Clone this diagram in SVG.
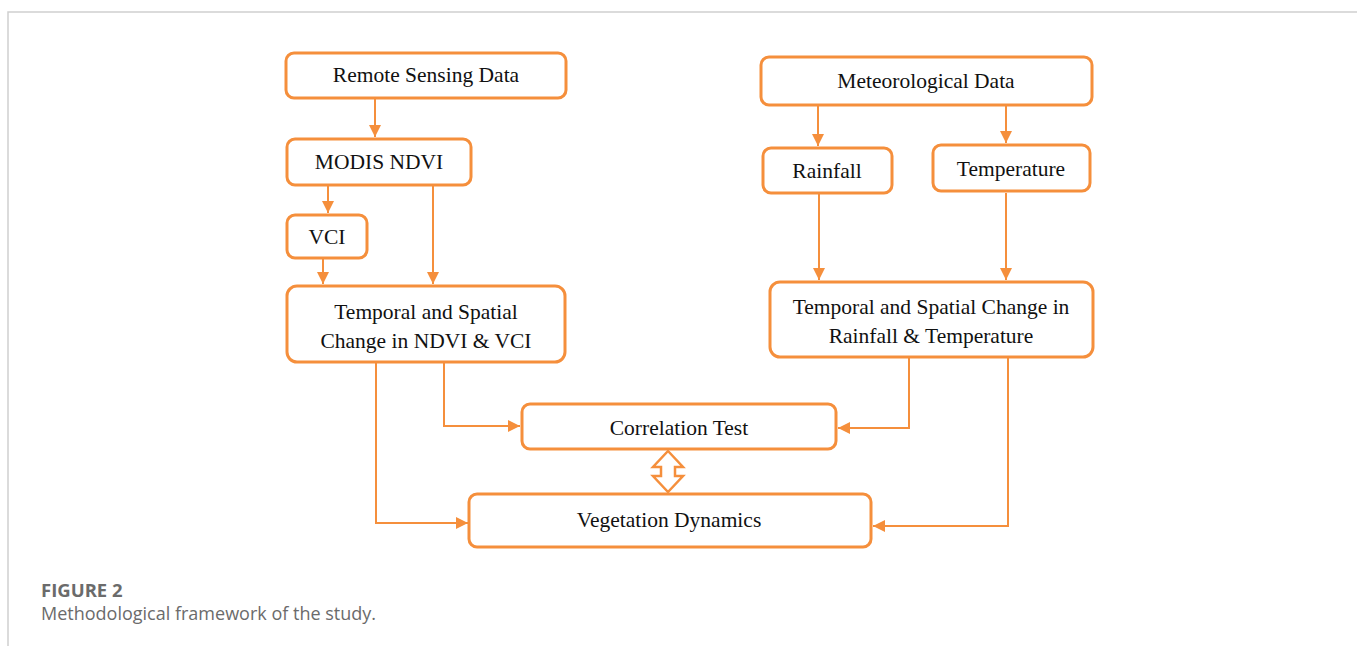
<svg xmlns="http://www.w3.org/2000/svg" width="1357" height="646" viewBox="0 0 1357 646">
<defs>
<style>
.box{fill:#fff;stroke:#F58F3C;stroke-width:3}
.t{font-family:"Liberation Serif","Times New Roman",serif;font-size:21.5px;fill:#111;text-anchor:middle}
.c{fill:none;stroke:#F58F3C;stroke-width:2}
.cap{font-family:"Open Sans","Noto Sans",sans-serif;fill:#6b6b6b}
</style>
<marker id="ah" markerUnits="userSpaceOnUse" markerWidth="12" markerHeight="12" refX="10" refY="5" orient="auto" viewBox="0 0 10 10">
<path d="M0,0 L10,5 L0,10 Z" fill="#F58F3C"/>
</marker>
</defs>
<rect width="1357" height="646" fill="#fff"/>
<path d="M8,646 V12 H1357" fill="none" stroke="#d0d0d0" stroke-width="1.5"/>

<g id="connectors">
<path class="c" d="M375,99 V137" marker-end="url(#ah)"/>
<path class="c" d="M328,186 V213" marker-end="url(#ah)"/>
<path class="c" d="M323,259 V284" marker-end="url(#ah)"/>
<path class="c" d="M433,186 V284" marker-end="url(#ah)"/>
<path class="c" d="M818,106 V146" marker-end="url(#ah)"/>
<path class="c" d="M1006,106 V143" marker-end="url(#ah)"/>
<path class="c" d="M819,194 V280" marker-end="url(#ah)"/>
<path class="c" d="M1006,193 V280" marker-end="url(#ah)"/>
<path class="c" d="M444,363 V426 H520" marker-end="url(#ah)"/>
<path class="c" d="M376,363 V523 H468" marker-end="url(#ah)"/>
<path class="c" d="M909,358 V428 H838" marker-end="url(#ah)"/>
<path class="c" d="M1008,358 V526 H873" marker-end="url(#ah)"/>
<path d="M668,451 L683,467 L675,467 L675,476 L683,476 L668,492 L653,476 L661,476 L661,467 L653,467 Z" fill="#fff" stroke="#F58F3C" stroke-width="2.5" stroke-linejoin="miter"/>
</g>

<g id="remote"><rect class="box" x="286" y="53" width="280" height="45" rx="8"/><text class="t" x="426" y="82">Remote Sensing Data</text></g>
<g id="modis"><rect class="box" x="287" y="139" width="184" height="46" rx="8"/><text class="t" x="379" y="169">MODIS NDVI</text></g>
<g id="vci"><rect class="box" x="287" y="215" width="80" height="43" rx="8"/><text class="t" x="327" y="244">VCI</text></g>
<g id="tsndvi"><rect class="box" x="287" y="286" width="278" height="76" rx="10"/><text class="t" x="426" y="319">Temporal and Spatial</text><text class="t" x="426" y="348">Change in NDVI &amp; VCI</text></g>
<g id="met"><rect class="box" x="761" y="57" width="331" height="48" rx="8"/><text class="t" x="926" y="88">Meteorological Data</text></g>
<g id="rain"><rect class="box" x="763" y="148" width="129" height="45" rx="8"/><text class="t" x="827" y="178">Rainfall</text></g>
<g id="temp"><rect class="box" x="933" y="145" width="157" height="46" rx="8"/><text class="t" x="1011" y="176">Temperature</text></g>
<g id="tsrain"><rect class="box" x="770" y="282" width="323" height="75" rx="10"/><text class="t" x="931" y="314">Temporal and Spatial Change in</text><text class="t" x="931" y="343">Rainfall &amp; Temperature</text></g>
<g id="corr"><rect class="box" x="522" y="404" width="314" height="45" rx="8"/><text class="t" x="679" y="435">Correlation Test</text></g>
<g id="veg"><rect class="box" x="469" y="494" width="402" height="53" rx="8"/><text class="t" x="669" y="527">Vegetation Dynamics</text></g>

<text class="cap" x="41" y="597" font-size="18.5" font-weight="bold">FIGURE 2</text>
<text class="cap" x="41" y="620" font-size="18">Methodological framework of the study.</text>
</svg>
